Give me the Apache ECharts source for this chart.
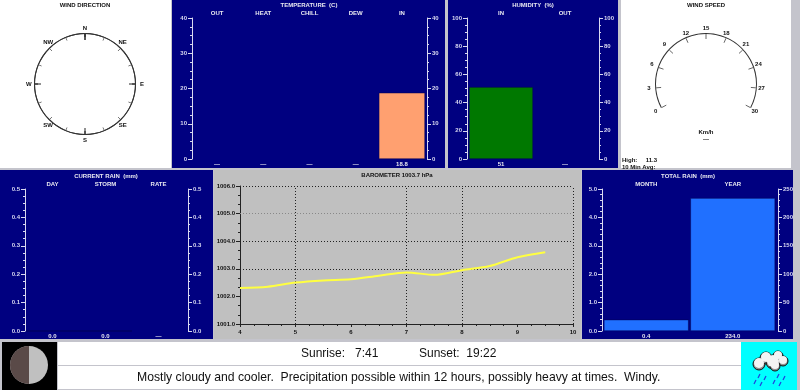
<!DOCTYPE html>
<html>
<head>
<meta charset="utf-8">
<style>html,body{margin:0;padding:0;background:#c4c4cc}#chart{width:800px;height:390px}</style>
<script src="https://cdn.jsdelivr.net/npm/echarts@6/dist/echarts.min.js"></script>
</head>
<body>
<div id="chart"></div>
<script>
const compassLabels = ['N', 'NE', 'E', 'SE', 'S', 'SW', 'W', 'NW', ''];
const tempCats = ['OUT', 'HEAT', 'CHILL', 'DEW', 'IN'];
const tempValues = [null, null, null, null, 18.8];
const tempLabels = ['—', '—', '—', '—', '18.8'];
const humCats = ['IN', 'OUT'];
const humValues = [51, null];
const humLabels = ['51', '—'];
const curRainCats = ['DAY', 'STORM', 'RATE'];
const curRainValues = [0, 0, null];
const curRainLabels = ['0.0', '0.0', '—'];
const totalCats = ['MONTH', 'YEAR'];
const totalMonth = [0.4, null];
const totalYear = [null, 234];
const totalLabels = ['0.4', '234.0'];
const baroHours = [4, 4.5, 5, 5.5, 6, 6.5, 7, 7.5, 8, 8.5, 9, 9.5];
const baroValues = [1002.3, 1002.35, 1002.5, 1002.58, 1002.62, 1002.75, 1002.87, 1002.78, 1002.95, 1003.1, 1003.42, 1003.6];
const baroHourLines = [5, 7, 8, 10];
const baroLevelLines = [1003, 1004, 1006];
const baroFaintLines = [1005];

const FONT = '"Liberation Sans", Arial, sans-serif';
const chart = echarts.init(document.getElementById('chart'));

const titles = [];
const grids = [];
const xAxes = [];
const yAxes = [];
const series = [];

function smallTitle(text, x, y, color) {
  titles.push({
    text, left: x, top: y, textAlign: 'center', padding: 0,
    textStyle: { color, fontSize: 6, lineHeight: 6, fontWeight: 'bold', fontFamily: FONT }
  });
}

function valueAxis(gridIndex, position, range, color, fmt, offset = 0) {
  yAxes.push({
    type: 'value', gridIndex, position, offset, min: range.min, max: range.max, interval: range.interval,
    axisLine: { show: true, onZero: false, lineStyle: { color, width: 1 } },
    axisTick: { show: true, length: 4, lineStyle: { color } },
    minorTick: { show: true, splitNumber: range.minors, length: 2, lineStyle: { color } },
    splitLine: { show: false },
    axisLabel: { color, fontSize: 6, fontWeight: 'bold', fontFamily: FONT, margin: 5, formatter: fmt }
  });
  return yAxes.length - 1;
}

// navy bar panel: categories along the top, read-outs along the bottom
function barPanel(box, cats, labels, leftAxis, rightAxis) {
  const gi = grids.length;
  grids.push({ left: box.left, top: box.top, width: box.width, height: box.height, show: false });
  const capStyle = { color: '#e8e8f0', fontWeight: 'bold', fontFamily: FONT, fontSize: 6, interval: 0 };
  xAxes.push({
    type: 'category', gridIndex: gi, position: 'bottom', data: labels,
    axisLine: { show: false }, axisTick: { show: false },
    axisLabel: { ...capStyle, margin: 2 }
  });
  const xi = xAxes.length - 1;
  xAxes.push({
    type: 'category', gridIndex: gi, position: 'top', data: cats,
    axisLine: { show: false }, axisTick: { show: false },
    axisLabel: { ...capStyle, margin: 2 }
  });
  const li = valueAxis(gi, 'left', leftAxis, '#d8d8f0', leftAxis.fmt, box.padL);
  const ri = valueAxis(gi, 'right', rightAxis, '#d8d8f0', rightAxis.fmt, box.padR);
  return { xi, li, ri };
}

function bar(axes, yIndex, data, color, barWidth = '100%') {
  series.push({
    type: 'bar', xAxisIndex: axes.xi, yAxisIndex: yIndex, data,
    barWidth, barGap: '-100%', silent: true,
    itemStyle: { color, borderColor: '#000050', borderWidth: 0.5 }
  });
}

const f1 = v => v.toFixed(1);

// temperature
const tempAxes = barPanel({ left: 194, top: 18, width: 231, height: 141, padL: 2, padR: 2 }, tempCats, tempLabels,
  { min: 0, max: 40, interval: 10, minors: 4 }, { min: 0, max: 40, interval: 10, minors: 4 });
bar(tempAxes, tempAxes.li, tempValues, '#ffa070');
smallTitle('TEMPERATURE  (C)', 309, 2, '#e8e8f0');

// humidity
const humAxes = barPanel({ left: 469, top: 18, width: 128, height: 141, padL: 2, padR: 2 }, humCats, humLabels,
  { min: 0, max: 100, interval: 20, minors: 4 }, { min: 0, max: 100, interval: 20, minors: 4 });
bar(humAxes, humAxes.li, humValues, '#007800');
smallTitle('HUMIDITY  (%)', 533, 2, '#e8e8f0');

// current rain
const curAxes = barPanel({ left: 26, top: 189, width: 159, height: 142, padL: 1, padR: 3 }, curRainCats, curRainLabels,
  { min: 0, max: 0.5, interval: 0.1, minors: 4, fmt: f1 }, { min: 0, max: 0.5, interval: 0.1, minors: 4, fmt: f1 });
bar(curAxes, curAxes.li, curRainValues, '#2070ff');
smallTitle('CURRENT RAIN  (mm)', 106, 173, '#e8e8f0');

// total rain, one bar per axis
const totAxes = barPanel({ left: 603, top: 189, width: 173, height: 142, padL: 1, padR: 2 }, totalCats, totalLabels,
  { min: 0, max: 5, interval: 1, minors: 5, fmt: f1 }, { min: 0, max: 250, interval: 50, minors: 5 });
bar(totAxes, totAxes.li, totalMonth, '#2070ff', '98%');
bar(totAxes, totAxes.ri, totalYear, '#2070ff', '98%');
smallTitle('TOTAL RAIN  (mm)', 688, 173, '#e8e8f0');

// barometer
const baroGrid = grids.length;
grids.push({ left: 240, top: 186, width: 333, height: 138, show: false });
xAxes.push({
  type: 'value', gridIndex: baroGrid, min: 4, max: 10, interval: 1,
  axisLine: { show: true, lineStyle: { color: '#222' } },
  axisTick: { show: true, length: 3, lineStyle: { color: '#222' } },
  minorTick: { show: true, splitNumber: 4, length: 2, lineStyle: { color: '#222' } },
  splitLine: { show: false },
  axisLabel: { color: '#111', fontSize: 6, fontWeight: 'bold', fontFamily: FONT, margin: 5 }
});
const baroX = xAxes.length - 1;
const baroY = valueAxis(baroGrid, 'left', { min: 1001, max: 1006, interval: 1, minors: 3 }, '#222', f1);
yAxes[baroY].axisLabel.color = '#111';
const dark = { type: [1, 2], color: '#222', width: 1 };
const faint = { type: [1, 2], color: '#888', width: 1 };
series.push({
  type: 'line', xAxisIndex: baroX, yAxisIndex: baroY, silent: true,
  data: baroHours.map((h, i) => [h, baroValues[i]]),
  smooth: 0.3, symbol: 'none', lineStyle: { color: '#ffff40', width: 2 }, z: 5,
  markLine: {
    silent: true, symbol: 'none', label: { show: false }, z: 1,
    data: [
      ...baroHourLines.map(v => ({ xAxis: v, lineStyle: dark })),
      ...baroLevelLines.map(v => ({ yAxis: v, lineStyle: dark })),
      ...baroFaintLines.map(v => ({ yAxis: v, lineStyle: faint }))
    ]
  }
});
smallTitle('BAROMETER 1003.7 hPa', 397, 172, '#111');

// dials
const dialBase = {
  type: 'gauge', radius: 51, silent: true,
  pointer: { show: false }, progress: { show: false }, detail: { show: false }, title: { show: false }, data: [],
  axisLine: { show: true, lineStyle: { width: 1, color: [[1, '#333']] } }
};
series.push({
  ...dialBase, center: [85, 84], startAngle: 90, endAngle: -270, min: 0, max: 360, splitNumber: 8,
  axisTick: { show: true, splitNumber: 2, length: 3, distance: 0, lineStyle: { color: '#777', width: 1 } },
  splitLine: { show: true, length: 3, distance: 0, lineStyle: { color: '#777', width: 1 } },
  axisLabel: {
    show: true, distance: -11, color: '#111', fontSize: 6, fontWeight: 'bold', fontFamily: FONT,
    formatter: v => compassLabels[Math.round(v / 45)]
  }
});
series.push({
  ...dialBase, center: [85, 84], startAngle: 90, endAngle: -270, min: 0, max: 360, splitNumber: 4,
  axisTick: { show: false }, axisLabel: { show: false },
  splitLine: { show: true, length: 6, distance: 0, lineStyle: { color: '#222', width: 1 } }
});
series.push({
  ...dialBase, center: [706, 84], startAngle: 208, endAngle: -28, min: 0, max: 30, splitNumber: 10,
  axisTick: { show: false },
  splitLine: { show: true, length: 5, distance: 0, lineStyle: { color: '#666', width: 1 } },
  axisLabel: { show: true, distance: -13, color: '#111', fontSize: 6, fontWeight: 'bold', fontFamily: FONT }
});
smallTitle('WIND DIRECTION', 85, 2, '#111');
smallTitle('WIND SPEED', 706, 2, '#111');

function rect(x, y, w, h, fill, z = -10) {
  return { type: 'rect', shape: { x, y, width: w, height: h }, style: { fill }, z, silent: true };
}
function label(text, x, y, extra) {
  return {
    type: 'text', x, y, z: 5, silent: true,
    style: { text, fill: '#111', font: `bold 6px ${FONT}`, ...extra }
  };
}
function bigText(text, x, y, size = 12) {
  return { type: 'text', x, y, z: 5, silent: true, style: { text, fill: '#111', font: `${size}px ${FONT}`, textVerticalAlign: 'middle' } };
}

const cloudPuffs = [[759, 364, 6], [766, 358, 6], [773, 362, 7], [778, 356, 5], [783, 361, 5], [775, 366, 5]];
const cloud = cloudPuffs.map(p => ({
  type: 'circle', shape: { cx: p[0], cy: p[1], r: p[2] },
  style: { fill: '#909090', stroke: '#111', lineWidth: 1 }, z: 3, silent: true
}));
const cloudFill = cloudPuffs.map(p => ({
  type: 'circle', shape: { cx: p[0], cy: p[1] - 1, r: p[2] - 1 },
  style: { fill: '#f4f4f4' }, z: 4, silent: true
}));
const drops = [];
[[760, 374], [756, 380], [766, 376], [762, 382], [779, 374], [775, 380], [785, 376], [781, 382]].forEach(d => {
  drops.push({
    type: 'line', shape: { x1: d[0], y1: d[1], x2: d[0] - 2, y2: d[1] + 4 },
    style: { stroke: '#2040e0', lineWidth: 1.2 }, z: 3, silent: true
  });
});

const graphic = [
  rect(0, 0, 800, 390, '#c4c4cc', -20),
  rect(0, 0, 171, 168, '#ffffff'),
  rect(172, 0, 273, 168, '#000080'),
  rect(448, 0, 170, 168, '#000080'),
  rect(621, 0, 170, 168, '#ffffff'),
  rect(0, 170, 213, 169, '#000080'),
  rect(214, 170, 367, 169, '#c0c0c0'),
  rect(582, 170, 211, 169, '#000080'),
  rect(2, 342, 55, 48, '#000000'),
  rect(58, 342, 683, 23, '#ffffff'),
  rect(58, 366, 683, 23, '#ffffff'),
  rect(741, 342, 56, 48, '#00ffff'),
  { type: 'circle', shape: { cx: 29, cy: 365, r: 19 }, style: { fill: '#c0c0c0' }, z: 2, silent: true },
  { type: 'sector', shape: { cx: 29, cy: 365, r: 19, startAngle: Math.PI / 2, endAngle: Math.PI * 1.5 }, style: { fill: '#5a4a48' }, z: 3, silent: true },
  bigText('Sunrise:   7:41', 301, 354),
  bigText('Sunset:  19:22', 419, 354),
  bigText('Mostly cloudy and cooler.  Precipitation possible within 12 hours, possibly heavy at times.  Windy.', 137, 378, 12.2),
  label('Km/h', 706, 129, { textAlign: 'center' }),
  label('—', 706, 136, { textAlign: 'center' }),
  label('High:     11.3', 622, 157),
  label('10 Min Avg:', 622, 164),
  ...cloud, ...cloudFill, ...drops
];

chart.setOption({
  animation: false,
  backgroundColor: '#c4c4cc',
  tooltip: { show: false },
  title: titles,
  grid: grids,
  xAxis: xAxes,
  yAxis: yAxes,
  graphic,
  series
});
</script>
</body>
</html>
